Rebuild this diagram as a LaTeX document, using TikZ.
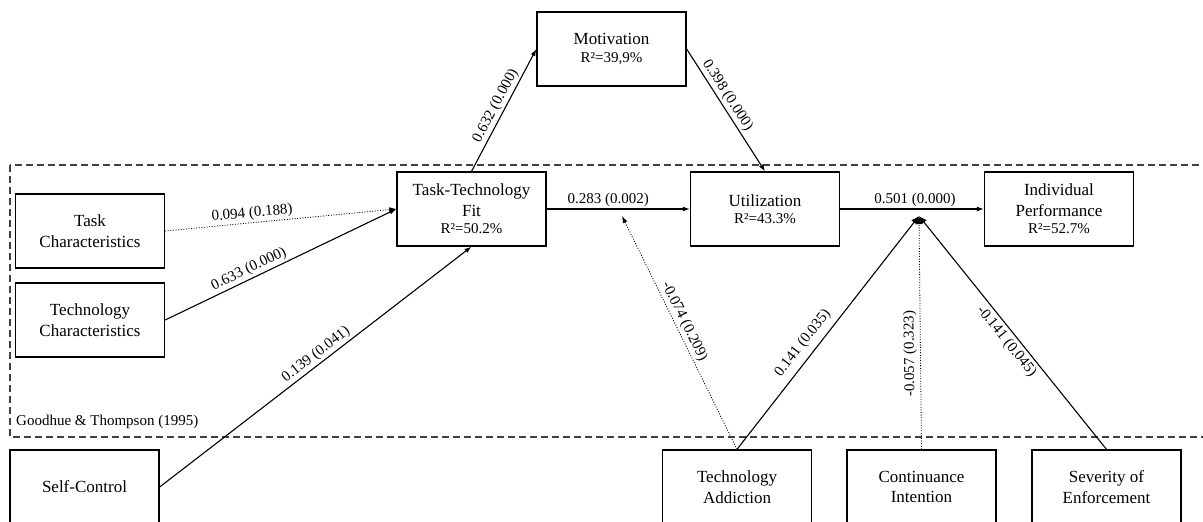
\documentclass[tikz,border=0pt]{standalone}
\usepackage{fontspec}
\setmainfont{Liberation Serif}
\usetikzlibrary{arrows.meta}

\begin{document}
\begin{tikzpicture}
	 [x=1pt,y=-1pt,
	  box/.style={draw,line width=1.3pt,minimum width=149pt,minimum height=74pt,inner sep=0pt,align=center,font=\fontsize{17}{20.5}\selectfont},
	  val/.style={font=\fontsize{15}{18}\selectfont,sloped,inner sep=2pt},
	  link/.style={line width=1.1pt,-{Latex[length=7pt,width=5pt]}},
	  weak/.style={link,line width=0.8pt,dash pattern=on 1pt off 1.6pt},
	  tomod/.style={-{Latex[length=8pt,width=7pt]}}]

	\useasboundingbox (0,0) rectangle (1203,522);
	\clip (0,0) rectangle (1203,522);

%	Goodhue & Thompson frame
	\draw[line width=1.2pt,black!75,dash pattern=on 7pt off 4pt] (10,165) rectangle (1240,437);
	\node[anchor=west,inner sep=0pt,font=\fontsize{15}{18}\selectfont] (gt) at (16,422) {Goodhue \& Thompson (1995)};

	  \node[box] (task) at (90,231) {Task\\Characteristics};
	  \node[box] (tech) at (90,320) {Technology\\Characteristics};
	  \node[box] (self) at (84.5,487) {Self-Control};
	  \node[box] (ttf) at (471.5,209) {Task-Technology\\Fit\\[-3pt]{\fontsize{15}{18}\selectfont R²=50.2\%}};
	  \node[box] (mot) at (611.5,49) {Motivation\\[-3pt]{\fontsize{15}{18}\selectfont R²=39,9\%}};
	  \node[box] (util) at (765,209) {Utilization\\[-3pt]{\fontsize{15}{18}\selectfont R²=43.3\%}};
	  \node[box] (perf) at (1059,209) {Individual\\Performance\\[-3pt]{\fontsize{15}{18}\selectfont R²=52.7\%}};

	  \node[box] (addict) at (737,487) {Technology\\Addiction};
	  \node[box] (intent) at (921.5,487) {Continuance\\Intention};
	  \node[box] (enforce) at (1106.5,487) {Severity of\\Enforcement};

	  \coordinate (join) at (919,216);
	  \coordinate (mod) at (622,216);

	\foreach \from/\to/\num/\p in {tech.east/ttf.west/0.633 (0.000)/.38,self.east/ttf.south/0.139 (0.041)/.52,ttf.north/mot.west/0.632 (0.000)/.5,mot.east/util.north/0.398 (0.000)/.42,ttf.east/util.west/0.283 (0.002)/.43,util.east/perf.west/0.501 (0.000)/.52}
    \draw[link] (\from) -- node[val,above,pos=\p] {\num} (\to);

	\draw[weak] (task.east) -- node[val,above,pos=.38] {0.094 (0.188)} (ttf.west);

%	moderators
	\draw[weak] (addict.north) -- node[val,above,pos=.53] {-0.074 (0.209)} (mod);
	\draw[link,tomod] (addict.north) -- node[val,above,pos=.42,inner sep=6pt] {0.141 (0.035)} (join);
	\draw[weak,tomod] (intent.north) -- node[val,allow upside down,above,pos=.41,inner sep=3pt] {-0.057 (0.323)} (join);
	\draw[link,tomod] (enforce.north) -- node[val,below,pos=.49,inner sep=3pt] {-0.141 (0.045)} (join);

\end{tikzpicture}
\end{document}
